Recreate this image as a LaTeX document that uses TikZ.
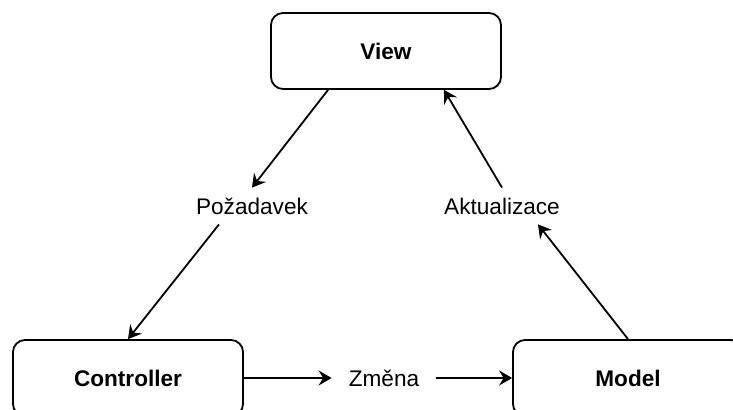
\documentclass[tikz,border=0pt]{standalone}
\usepackage{fontspec}
\setmainfont{Liberation Sans}
\usetikzlibrary{arrows.meta,calc}
\begin{document}
\begin{tikzpicture}[x=0.5pt,y=-0.5pt,
  box/.style={draw, line width=0.9pt, rounded corners=6pt, minimum width=115pt, minimum height=38pt, inner sep=0pt, font=\fontsize{11.3}{13.5}\selectfont\bfseries},
  lbl/.style={minimum height=18pt, inner sep=0pt, font=\fontsize{11.3}{13.5}\selectfont},
  arr/.style={line width=0.9pt, -{Stealth[length=6.5pt,width=7.5pt,inset=2.3pt]}}]
\useasboundingbox (0,0) rectangle (733,410);
\node[box] (view) at (386,51) {View};
\node[box] (ctrl) at (128,378) {Controller};
\node[box] (model) at (628,378) {Model};
\node[lbl] (P) at (252,206) {Požadavek};
\node[lbl] (A) at (502,206) {Aktualizace};
\node[lbl, minimum width=52pt] (Z) at (384,378) {Změna};
\coordinate (vq) at ($(view.south west)!0.25!(view.south east)$);
\coordinate (vr) at ($(view.south west)!0.75!(view.south east)$);
\coordinate (ps) at ($(P.south)+(-33,0)$);
\coordinate (as) at ($(A.south)+(36,0)$);
\draw[arr] (vq) -- (P.north);
\draw[arr] (ps) -- (ctrl.north);
\draw[arr] (model.north) -- (as);
\draw[arr] (A.north) -- (vr);
\draw[arr] (ctrl.east) -- (Z.west);
\draw[arr] (Z.east) -- (model.west);
\end{tikzpicture}
\end{document}
